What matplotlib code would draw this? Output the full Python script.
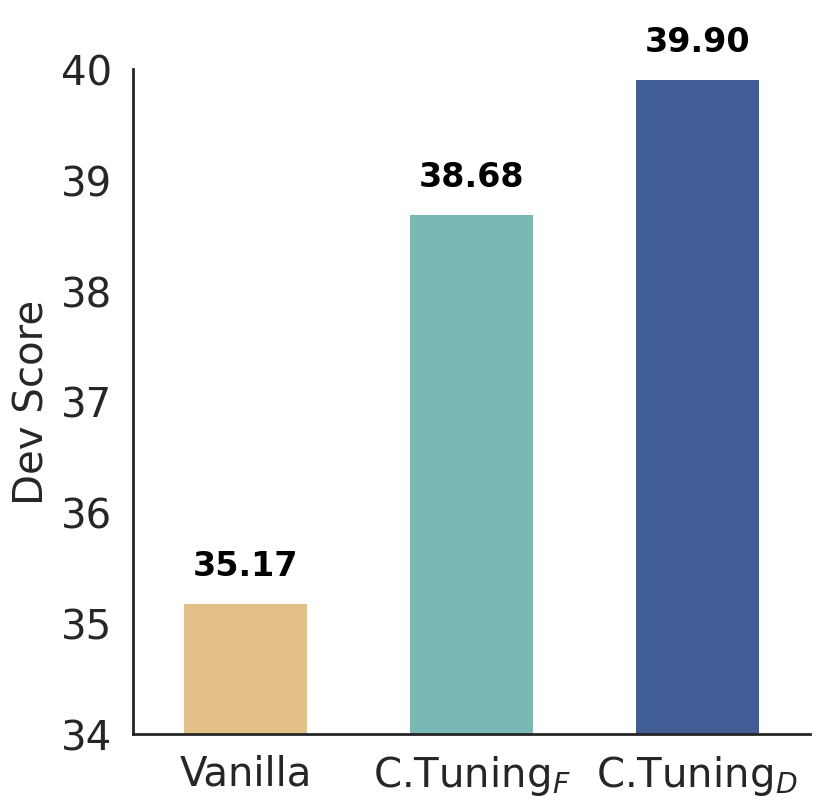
import numpy as np
import matplotlib.pyplot as plt

# Dev score per method
methods = ['Vanilla', r'C.Tuning$_F$', r'C.Tuning$_D$']
scores = [35.17, 38.68, 39.90]
colors = ['#E3C087', '#79B8B4', '#425E97']
yticks = [34, 35, 36, 37, 38, 39, 40]

fig = plt.figure(figsize=(8.3, 8.12), dpi=100)
ax = fig.add_axes([0.160, 0.095, 0.816, 0.819])

x = np.arange(len(methods))
ax.bar(x, scores, width=0.545, color=colors)

for xi, s in zip(x, scores):
    ax.text(xi, s + 0.2, '%.2f' % s, ha='center', va='bottom',
            fontsize=24, fontweight='bold', color='black')

ax.set_xlim(-0.5, 2.5)
ax.set_ylim(34, 40)
ax.set_xticks(x)
ax.set_xticklabels(methods, fontsize=29, color='#262626')
ax.set_yticks(yticks)
ax.set_yticklabels([str(t) for t in yticks], fontsize=29, color='#262626')
ax.tick_params(axis='x', length=0, pad=14)
ax.tick_params(axis='y', length=0, pad=15)
ax.set_ylabel('Dev Score', fontsize=29, color='#262626', labelpad=6)

for side in ['top', 'right']:
    ax.spines[side].set_visible(False)
for side in ['left', 'bottom']:
    ax.spines[side].set_color('#262626')
    ax.spines[side].set_linewidth(2)

fig.savefig('out.png', dpi=100)
